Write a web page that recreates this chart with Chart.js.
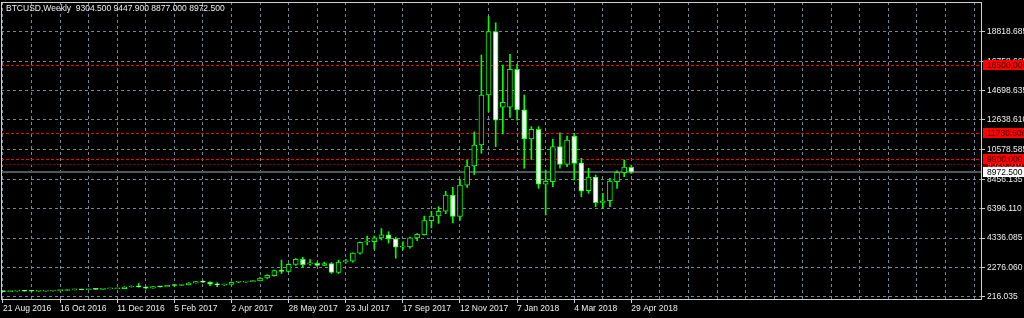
<!DOCTYPE html>
<html>
<head>
<meta charset="utf-8">
<script src="https://cdn.jsdelivr.net/npm/chart.js@4.4.1/dist/chart.umd.min.js"></script>
<style>
html,body{margin:0;padding:0;background:#000;overflow:hidden}
canvas{display:block}
</style>
</head>
<body>
<canvas id="c" width="1024" height="318"></canvas>
<script>
// ---- data (weekly BTCUSD bars, first bar = week of 21 Aug 2016) ----
const dateTickLabels = ['21 Aug 2016','16 Oct 2016','11 Dec 2016','5 Feb 2017','2 Apr 2017','28 May 2017',
  '23 Jul 2017','17 Sep 2017','12 Nov 2017','7 Jan 2018','4 Mar 2018','29 Apr 2018'];

const weekOpen = [581,573,606,608,606,601,612,616,638,652,700,712,704,738,733,762,772,786,898,965,
  905,822,922,918,1008,1000,1050,1180,1270,1240,1050,1045,1085,1230,1245,1275,1330,1530,1700,2060,
  1995,2490,2840,2520,2560,2420,2540,1920,2680,2720,3270,4060,4090,4350,4560,4290,3700,3720,4350,4580,
  5560,5890,6220,7360,5850,8050,9400,10880,14390,18840,13530,13530,16200,13340,11300,11980,8120,8300,10760,9520,
  11510,9630,7660,8630,6850,6960,8300,8930,9304.5];
const weekHigh = [590,610,630,612,610,615,620,642,656,720,740,740,750,745,765,775,790,925,975,1150,
  920,930,928,1010,1060,1055,1210,1290,1330,1260,1200,1090,1260,1265,1290,1350,1560,1760,2090,2790,
  2550,2900,2990,2820,2620,2650,2620,2800,2840,3300,4080,4480,4480,5000,4780,4400,4080,4400,4650,5880,
  6220,6540,7620,7900,8470,9800,11800,17200,19900,19470,16500,17250,16550,14390,12170,12170,9120,11280,11740,11510,
  11700,9940,9240,8770,7480,8540,9070,9820,9447.9];
const weekLow = [565,568,600,600,592,598,605,612,630,648,690,700,698,725,728,755,768,785,890,880,
  750,815,890,910,940,990,1045,1160,1200,990,920,1000,1070,1210,1235,1265,1320,1470,1660,1850,
  1950,2420,2330,2440,2350,2400,1850,1850,2560,2650,3200,3850,3550,4200,3980,2920,3500,3620,4150,4550,
  5050,5370,6050,5400,5600,7900,8800,10300,13200,10760,11650,12820,12630,9240,9870,7830,5960,7950,9240,9350,
  8420,7240,7480,6540,6430,6540,7830,8650,8877];
const weekClose = [573,606,608,606,601,612,616,638,652,700,712,704,738,733,762,772,786,898,965,905,
  822,922,918,1008,1000,1050,1180,1270,1240,1090,1045,1060,1230,1245,1275,1330,1530,1720,2060,1995,
  2490,2840,2460,2545,2420,2540,1920,2650,2720,3280,4040,4090,4360,4560,4280,3700,3720,4350,4600,5560,
  5890,6220,7360,5850,8060,9400,10880,14390,18840,12630,13870,16200,13340,11300,11980,8120,8330,10760,9520,11230,
  9590,7640,8630,6820,6960,8350,8960,9330,8972.5];

const priceAxisTicks = [216.035,2276.060,4336.085,6396.110,8456.135,10578.585,12638.610,14698.635,16758.660,18818.685];
const levelPrices = [16500.000, 11730.506, 9526.518, 9900.000];
const bidPrice = 8972.500;
const headerText = 'BTCUSD,Weekly  9304.500 9447.900 8877.000 8972.500';

// ---- styles ----
const FONT_FAMILY = '"Liberation Sans", Arial, sans-serif';
const FONT_SIZE = 8.5;
const levelStyle = [
  {line:'#ff0000', dash:[3,2], box:'#ff0000', text:'#3a0000'},
  {line:'#ff0000', dash:[3,2], box:'#ff0000', text:'#3a0000'},
  {line:'#800000', dash:[3,1], box:'#800000', text:'#ff5050'},
  {line:'#ff0000', dash:[3,2], box:'#ff0000', text:'#3a0000'}
];

const idx = weekOpen.map((_, i) => i);
const bodies = idx.map(i => ({x: i, y: [weekOpen[i], weekClose[i]]}));
const wicks = idx.map(i => ({x: i, y: [weekLow[i], weekHigh[i]]}));
const bodyFill = idx.map(i => weekClose[i] >= weekOpen[i] ? '#000000' : '#ffffff');

const fmt = v => Number(v).toFixed(3);

const chartPlugin = {
  id: 'mt4',
  beforeDraw(chart) {
    const ctx = chart.ctx;
    ctx.save();
    ctx.fillStyle = '#000000';
    ctx.fillRect(0, 0, chart.width, chart.height);
    ctx.restore();
  },
  beforeDatasetsDraw(chart) {
    const {ctx, chartArea: a, scales: {y}} = chart;
    ctx.save();
    ctx.beginPath();
    ctx.rect(a.left, a.top, a.right - a.left, a.bottom - a.top);
    ctx.clip();
    ctx.lineWidth = 1;
    levelPrices.forEach((p, k) => {
      const py = Math.round(y.getPixelForValue(p)) + 0.5;
      ctx.strokeStyle = levelStyle[k].line;
      ctx.setLineDash(levelStyle[k].dash);
      ctx.beginPath();
      ctx.moveTo(a.left, py);
      ctx.lineTo(a.right, py);
      ctx.stroke();
    });
    const by = Math.round(y.getPixelForValue(bidPrice));
    ctx.setLineDash([]);
    ctx.strokeStyle = '#4f565e';
    ctx.lineWidth = 2;
    ctx.beginPath();
    ctx.moveTo(a.left, by);
    ctx.lineTo(a.right, by);
    ctx.stroke();
    ctx.restore();
  },
  afterDraw(chart) {
    const {ctx, chartArea: a, scales: {y}} = chart;
    ctx.save();
    // frame
    ctx.strokeStyle = '#d0d0d0';
    ctx.lineWidth = 1;
    ctx.setLineDash([]);
    ctx.strokeRect(a.left + 0.5, a.top + 0.5, a.right - a.left - 1, a.bottom - a.top);
    // header
    ctx.font = FONT_SIZE + 'px ' + FONT_FAMILY;
    ctx.fillStyle = '#f0f0f0';
    ctx.textBaseline = 'middle';
    ctx.textAlign = 'left';
    ctx.fillText(headerText, 6, 9);
    // level labels
    const drawBox = (p, box, text) => {
      const py = Math.round(y.getPixelForValue(p));
      ctx.fillStyle = box;
      ctx.fillRect(a.right + 1, py - 5, chart.width - a.right - 1, 10);
      ctx.fillStyle = text;
      ctx.fillText(fmt(p), a.right + 5, py + 0.5);
    };
    levelPrices.forEach((p, k) => drawBox(p, levelStyle[k].box, levelStyle[k].text));
    drawBox(bidPrice, '#ffffff', '#000000');
    ctx.restore();
  }
};

new Chart(document.getElementById('c'), {
  type: 'bar',
  data: {
    datasets: [
      {data: bodies, backgroundColor: bodyFill, borderColor: '#00ff00', borderWidth: 1,
       borderSkipped: false, barThickness: 5, minBarLength: 1, grouped: false},
      {data: wicks, backgroundColor: '#00ff00', borderWidth: 0, barThickness: 1, grouped: false}
    ]
  },
  options: {
    responsive: false,
    animation: false,
    devicePixelRatio: 1,
    events: [],
    layout: {padding: {left: 1, top: 2, right: 0, bottom: 0}},
    plugins: {legend: {display: false}, tooltip: {enabled: false}},
    scales: {
      x: {
        type: 'linear', min: -0.28, max: 137.11, offset: false,
        afterBuildTicks: s => { const t = []; for (let v = 0; v <= s.max; v += 4) t.push({value: v}); s.ticks = t; },
        afterFit: s => { s.height = 19; s.paddingLeft = 0; s.paddingRight = 0; },
        grid: {color: '#778899', offset: false, tickLength: 4, tickBorderDash: [],
          tickColor: c => (c.tick && c.tick.value % 8 === 0 && c.tick.value / 8 < dateTickLabels.length) ? '#d0d0d0' : 'rgba(0,0,0,0)'},
        border: {display: false, dash: [3, 3]},
        ticks: {autoSkip: false, maxRotation: 0, align: 'start', padding: 1, color: '#f0f0f0',
          font: {family: FONT_FAMILY, size: FONT_SIZE},
          callback: v => (v % 8 === 0 && dateTickLabels[v / 8]) ? dateTickLabels[v / 8] : ''}
      },
      y: {
        type: 'linear', position: 'right', min: 54, max: 20927, beginAtZero: false,
        afterBuildTicks: s => { s.ticks = priceAxisTicks.map(v => ({value: v})); },
        afterFit: s => { s.width = 42; s.paddingTop = 0; s.paddingBottom = 0; },
        grid: {color: '#778899', tickLength: 3, tickBorderDash: [], tickColor: '#d0d0d0'},
        border: {display: false, dash: [3, 3]},
        ticks: {autoSkip: false, padding: 2, color: '#f0f0f0', font: {family: FONT_FAMILY, size: FONT_SIZE},
          callback: v => fmt(v)}
      }
    }
  },
  plugins: [chartPlugin]
});
</script>
</body>
</html>
